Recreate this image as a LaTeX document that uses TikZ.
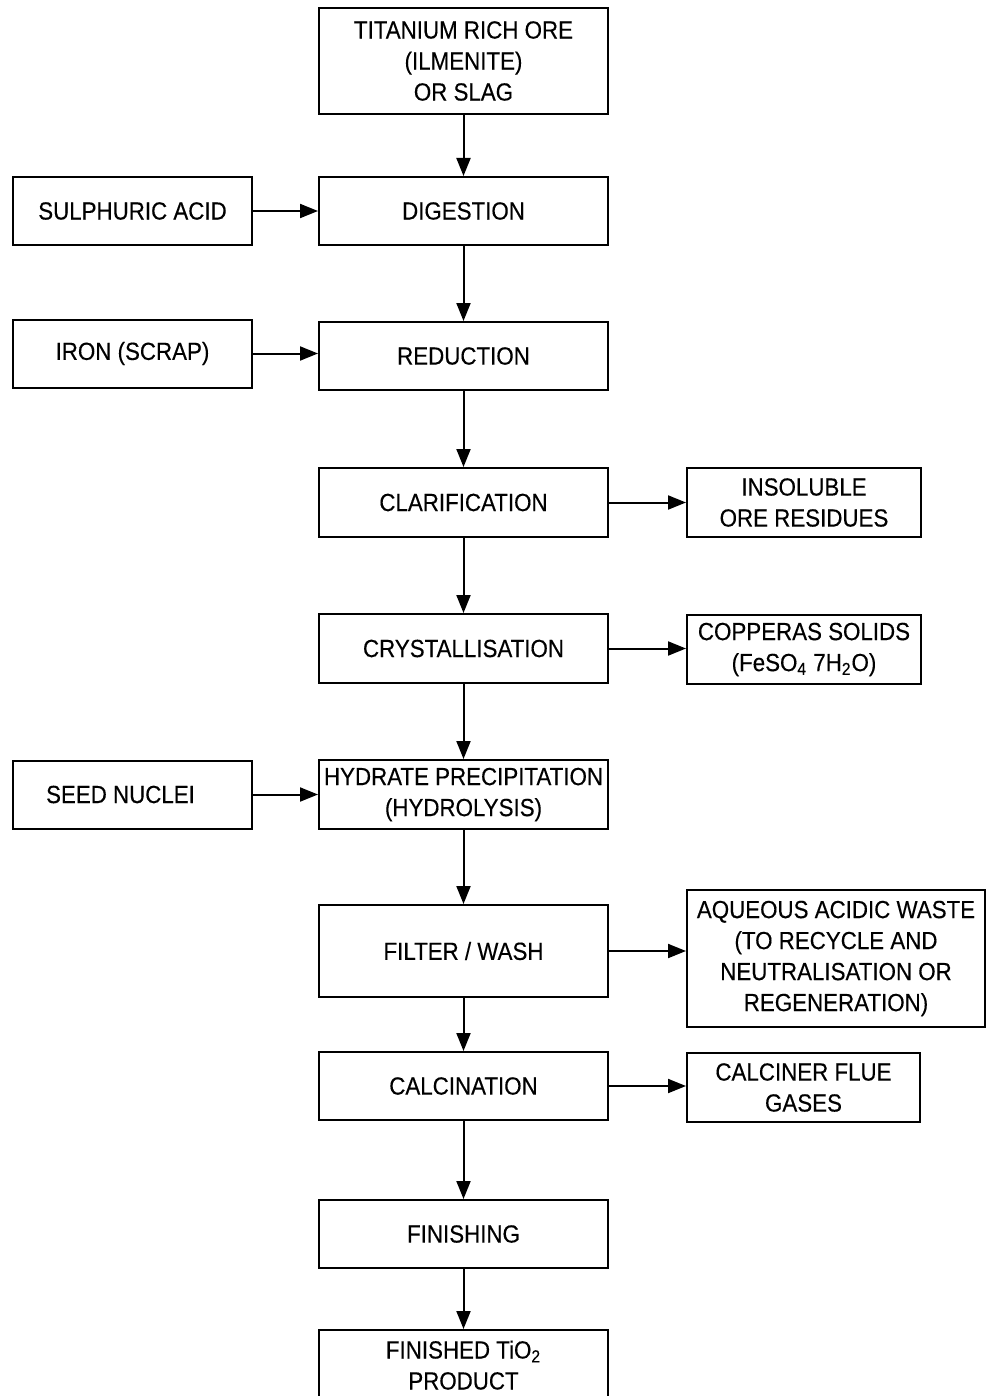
\documentclass[tikz,border=0pt]{standalone}
\usepackage{fontspec}
\setmainfont{Liberation Sans}[FakeStretch=0.9,FakeBold=0.3]
\usetikzlibrary{arrows.meta}
\begin{document}
\begin{tikzpicture}[x=0.5pt,y=-0.5pt,
  box/.style={draw, line width=1pt, align=center, inner sep=0pt,
    font=\fontsize{12.4}{15.5}\selectfont},
  mainbox/.style={box, minimum width=144.5pt},
  sidebox/.style={box, minimum width=119.5pt, minimum height=34pt},
  outbox/.style={box, minimum width=117pt, minimum height=34pt},
  flow/.style={line width=1pt, -{Triangle[length=9pt,width=7pt]}}]
\useasboundingbox (0,0) rectangle (996,1396);
% main process column
\node[mainbox, minimum height=53pt] (ore) at (463.5,61) {TITANIUM RICH ORE\\(ILMENITE)\\OR SLAG};
\node[mainbox, minimum height=34pt] (dig) at (463.5,211) {DIGESTION};
\node[mainbox, minimum height=34pt] (red) at (463.5,356) {REDUCTION};
\node[mainbox, minimum height=34.5pt] (cla) at (463.5,502.5) {CLARIFICATION};
\node[mainbox, minimum height=34.5pt] (cry) at (463.5,648.5) {CRYSTALLISATION};
\node[mainbox, minimum height=34.5pt] (hyd) at (463.5,794.5) {HYDRATE PRECIPITATION\\(HYDROLYSIS)};
\node[mainbox, minimum height=46pt] (fil) at (463.5,951) {\raisebox{-3pt}{FILTER / WASH}};
\node[mainbox, minimum height=34pt] (cal) at (463.5,1086) {CALCINATION};
\node[mainbox, minimum height=34pt] (fin) at (463.5,1234) {FINISHING};
\node[mainbox, minimum height=40pt, text depth=5pt] (pro) at (463.5,1370) {FINISHED TiO\textsubscript{2}\\PRODUCT};
% inputs on the left
\node[sidebox] (acid) at (132.5,211) {SULPHURIC ACID};
\node[sidebox] (iron) at (132.5,353.5) {IRON (SCRAP)};
\node[sidebox] (seed) at (132.5,794.5) {SEED NUCLEI\hspace*{12pt}};
% outputs on the right
\node[outbox, minimum height=34.5pt] (ins) at (804,502.5) {INSOLUBLE\\ORE RESIDUES};
\node[outbox, minimum height=34.5pt] (cop) at (804,649.5) {COPPERAS SOLIDS\\(FeSO\textsubscript{4} 7H\textsubscript{2}O)};
\node[box, minimum width=149pt, minimum height=68.5pt] (aqu) at (836,958.5) {AQUEOUS ACIDIC WASTE\\(TO RECYCLE AND\\NEUTRALISATION OR\\REGENERATION)};
\node[outbox, minimum width=116.5pt, minimum height=34.5pt] (flu) at (803.5,1087.5) {CALCINER FLUE\\GASES};
% main flow
\draw[flow] (ore) -- (dig);
\draw[flow] (dig) -- (red);
\draw[flow] (red) -- (cla);
\draw[flow] (cla) -- (cry);
\draw[flow] (cry) -- (hyd);
\draw[flow] (hyd) -- (fil);
\draw[flow] (fil) -- (cal);
\draw[flow] (cal) -- (fin);
\draw[flow] (fin) -- (pro);
% side streams
\draw[flow] (acid) -- (dig);
\draw[flow] (iron.east) -- (iron.east -| red.west);
\draw[flow] (seed) -- (hyd);
\draw[flow] (cla) -- (ins);
\draw[flow] (cry.east) -- (cry.east -| cop.west);
\draw[flow] (fil.east) -- (fil.east -| aqu.west);
\draw[flow] (cal.east) -- (cal.east -| flu.west);
\end{tikzpicture}
\end{document}
